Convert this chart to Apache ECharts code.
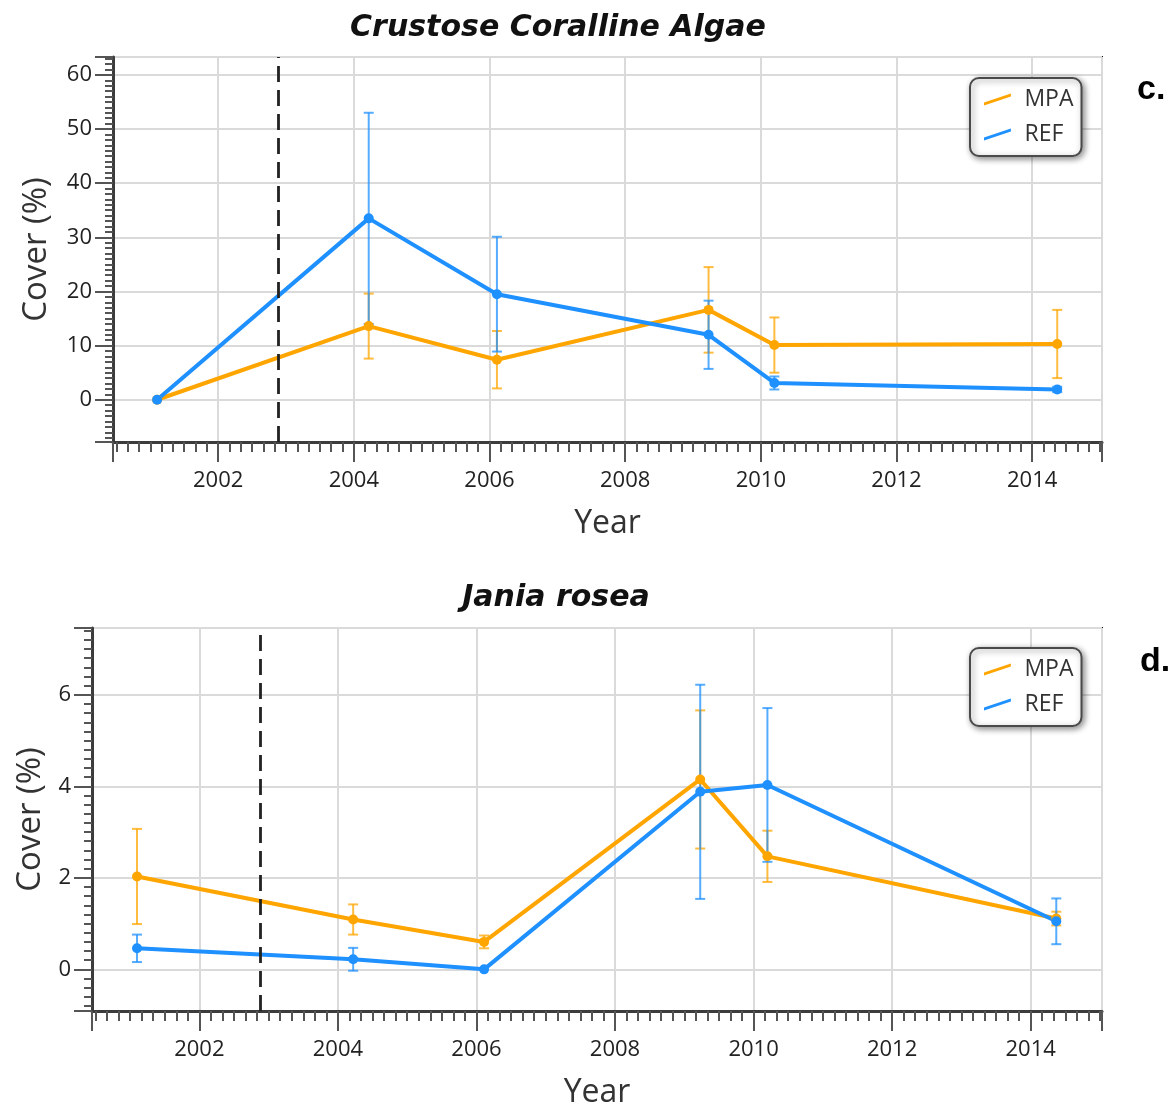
<!DOCTYPE html>
<html>
<head>
<meta charset="utf-8">
<script src="https://cdn.jsdelivr.net/npm/echarts/dist/echarts.min.js"></script>
<style>
  html, body { margin: 0; padding: 0; background: #ffffff; }
  #chart { width: 1175px; height: 1110px; }
</style>
</head>
<body>
<div id="chart"></div>
<script>
// Survey years (decimal year of each sampling trip)
const years = [2001.1, 2004.22, 2006.11, 2009.23, 2010.2, 2014.37];

// Crustose Coralline Algae: mean cover (%) and error (+/-)
const ccaMPA    = [0, 13.6, 7.4, 16.6, 10.1, 10.3];
const ccaMPAErr = [0, 6.0, 5.3, 7.9, 5.1, 6.3];
const ccaREF    = [0, 33.5, 19.5, 12.0, 3.1, 1.9];
const ccaREFErr = [0, 19.5, 10.6, 6.3, 1.2, 0.5];

// Jania rosea: mean cover (%) and error (+/-)
const janMPA    = [2.03, 1.09, 0.60, 4.15, 2.47, 1.11];
const janMPAErr = [1.04, 0.33, 0.14, 1.51, 0.56, 0.15];
const janREF    = [0.46, 0.22, 0.0, 3.88, 4.03, 1.05];
const janREFErr = [0.30, 0.25, 0.0, 2.34, 1.68, 0.50];

// Year the protected area came into force (dashed reference line)
const mpaStart = 2002.88;

const titles = ['Crustose Coralline Algae', 'Jania rosea'];
const panelTags = ['c.', 'd.'];
const seriesNames = ['MPA', 'REF'];

const COLORS = { MPA: '#FFA500', REF: '#1E90FF' };
const BAR_COLORS = { MPA: 'rgba(255,165,0,0.75)', REF: 'rgba(30,144,255,0.75)' };
const FONT = "'Open Sans', 'Noto Sans', sans-serif";
const TITLE_FONT = "'DejaVu Sans', 'Open Sans', sans-serif";

const chart = echarts.init(document.getElementById('chart'), null, { renderer: 'canvas' });

function pairs(vals) {
  return years.map((x, i) => [x, vals[i]]);
}

function errorBars(name, idx, key, vals, errs) {
  return {
    type: 'custom',
    name: name + ' error',
    xAxisIndex: idx,
    yAxisIndex: idx,
    z: 2,
    silent: true,
    data: years.map((x, i) => [x, vals[i] - errs[i], vals[i] + errs[i]]),
    encode: { x: 0, y: [1, 2] },
    renderItem(params, api) {
      const lo = api.coord([api.value(0), api.value(1)]);
      const hi = api.coord([api.value(0), api.value(2)]);
      if (Math.abs(lo[1] - hi[1]) < 1) return null;
      const cap = 5;
      const style = { stroke: BAR_COLORS[key], lineWidth: 2 };
      return {
        type: 'group',
        children: [
          { type: 'line', shape: { x1: lo[0], y1: lo[1], x2: hi[0], y2: hi[1] }, style },
          { type: 'line', shape: { x1: lo[0] - cap, y1: lo[1], x2: lo[0] + cap, y2: lo[1] }, style },
          { type: 'line', shape: { x1: hi[0] - cap, y1: hi[1], x2: hi[0] + cap, y2: hi[1] }, style }
        ]
      };
    }
  };
}

function lineSeries(name, idx, vals, withMark) {
  const s = {
    type: 'line',
    name,
    xAxisIndex: idx,
    yAxisIndex: idx,
    z: 3,
    data: pairs(vals),
    symbol: 'circle',
    symbolSize: 10,
    color: COLORS[name],
    lineStyle: { width: 4, color: COLORS[name] },
    itemStyle: { color: COLORS[name] },
    emphasis: { disabled: true },
    animation: false
  };
  if (withMark) {
    s.markLine = {
      silent: true,
      symbol: 'none',
      label: { show: false },
      lineStyle: { color: '#222', type: [16, 8], width: 2.8 },
      data: [{ xAxis: mpaStart }]
    };
  }
  return s;
}

function xAxisCfg(idx) {
  return {
    type: 'value',
    gridIndex: idx,
    min: 2000.45,
    max: 2015.03,
    splitNumber: 7,
    name: 'Year',
    nameLocation: 'middle',
    nameGap: 66,
    nameTextStyle: { fontSize: 32, color: '#333', fontFamily: FONT },
    axisLine: { show: true, onZero: false, lineStyle: { color: '#3c3c3c', width: 3 } },
    axisTick: { show: true, length: 20, lineStyle: { color: '#555', width: 2 } },
    minorTick: { show: true, splitNumber: 12, length: 10, lineStyle: { color: '#555', width: 2 } },
    splitLine: { show: true, lineStyle: { color: '#dadada', width: 2 } },
    axisLabel: {
      fontSize: 22, color: '#222', fontFamily: FONT, margin: 28,
      showMinLabel: false, showMaxLabel: false,
      formatter: v => String(Math.round(v))
    }
  };
}

function yAxisCfg(idx, min, max, splitNumber, nameGap) {
  return {
    type: 'value',
    gridIndex: idx,
    min, max, splitNumber,
    name: 'Cover (%)',
    nameLocation: 'middle',
    nameGap,
    nameRotate: 90,
    nameTextStyle: { fontSize: 33, color: '#333', fontFamily: FONT },
    axisLine: { show: true, onZero: false, lineStyle: { color: '#3c3c3c', width: 3 } },
    axisTick: { show: true, length: 18, lineStyle: { color: '#555', width: 2 } },
    minorTick: { show: true, splitNumber: 10, length: 8, lineStyle: { color: '#555', width: 2 } },
    splitLine: { show: true, lineStyle: { color: '#dadada', width: 2 } },
    axisLabel: {
      fontSize: 22, color: '#222', fontFamily: FONT, margin: 21,
      showMinLabel: false, showMaxLabel: false,
      formatter: v => String(Math.round(v))
    }
  };
}

function legendCfg(left, top) {
  return {
    data: seriesNames,
    orient: 'vertical',
    left, top,
    padding: [10, 8, 10, 14],
    itemGap: 12,
    itemWidth: 34,
    itemHeight: 12,
    icon: 'path://M0,10 L30,0 L30,3.4 L0,13.4 Z',
    textStyle: { fontSize: 23, color: '#333', fontFamily: FONT, padding: [0, 0, 0, 5] },
    backgroundColor: '#ffffff',
    borderColor: '#4a4a4a',
    borderWidth: 2,
    borderRadius: 9,
    shadowBlur: 6,
    shadowColor: 'rgba(0,0,0,0.45)',
    shadowOffsetX: 2,
    shadowOffsetY: 2,
    selectedMode: false
  };
}

const option = {
  animation: false,
  backgroundColor: '#ffffff',
  title: [
    { text: titles[0], left: 553, top: 8, textAlign: 'center',
      textStyle: { fontSize: 30, fontWeight: 'bold', fontStyle: 'italic', color: '#111', fontFamily: TITLE_FONT } },
    { text: titles[1], left: 551, top: 578, textAlign: 'center',
      textStyle: { fontSize: 30, fontWeight: 'bold', fontStyle: 'italic', color: '#111', fontFamily: TITLE_FONT } }
  ],
  graphic: [
    { type: 'text', left: 1137, top: 73, style: { text: panelTags[0], font: "bold 34px 'Liberation Sans', Arial, sans-serif", fill: '#000' } },
    { type: 'text', left: 1140, top: 645, style: { text: panelTags[1], font: "bold 34px 'Liberation Sans', Arial, sans-serif", fill: '#000' } }
  ],
  legend: [legendCfg(970, 78), legendCfg(970, 648)],
  grid: [
    { left: 113, top: 57, width: 989, height: 385, show: true, borderColor: '#111', borderWidth: 2, backgroundColor: 'transparent' },
    { left: 92, top: 628, width: 1010, height: 386, show: true, borderColor: '#111', borderWidth: 2, backgroundColor: 'transparent' }
  ],
  xAxis: [xAxisCfg(0), xAxisCfg(1)],
  yAxis: [
    yAxisCfg(0, -7.8, 63.3, 7, 60),
    yAxisCfg(1, -0.91, 7.46, 4, 39)
  ],
  series: [
    errorBars('MPA', 0, 'MPA', ccaMPA, ccaMPAErr),
    errorBars('REF', 0, 'REF', ccaREF, ccaREFErr),
    lineSeries('MPA', 0, ccaMPA, true),
    lineSeries('REF', 0, ccaREF, false),
    errorBars('MPA', 1, 'MPA', janMPA, janMPAErr),
    errorBars('REF', 1, 'REF', janREF, janREFErr),
    lineSeries('MPA', 1, janMPA, true),
    lineSeries('REF', 1, janREF, false)
  ]
};

chart.setOption(option);
</script>
</body>
</html>
